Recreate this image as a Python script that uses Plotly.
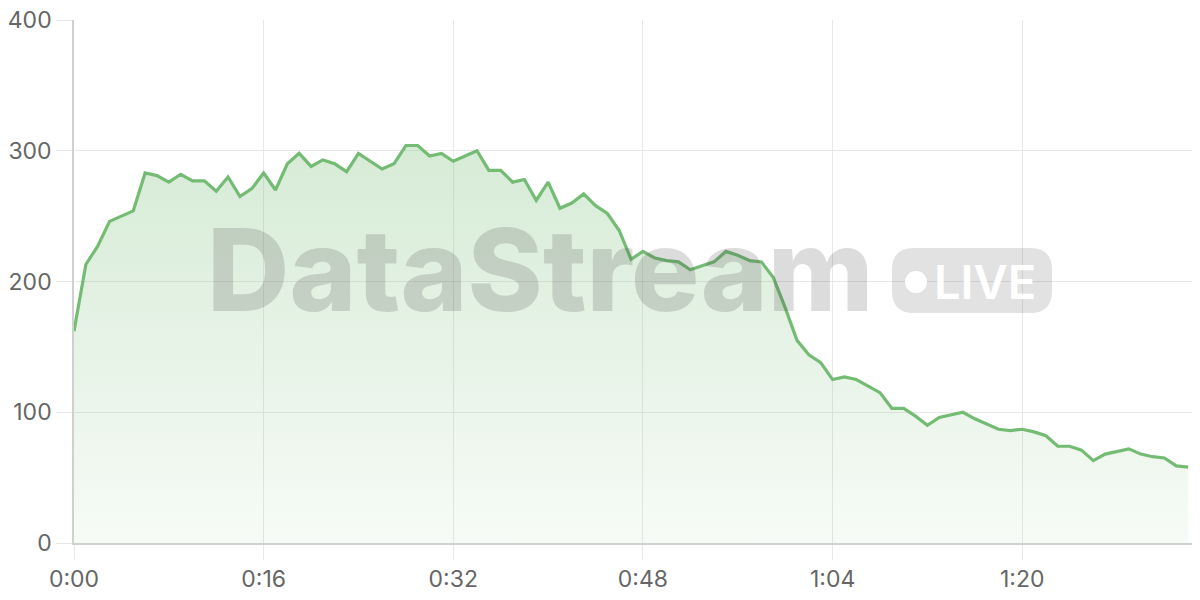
import plotly.graph_objects as go

# seconds since start, one sample per second
seconds = list(range(0, 95))
viewers = [162, 213, 227, 246, 250, 254, 283, 281, 276, 282,
           277, 277, 269, 280, 265, 271, 283, 270, 290, 298,
           288, 293, 290, 284, 298, 292, 286, 290, 304, 304,
           296, 298, 292, 296, 300, 285, 285, 276, 278, 262,
           276, 256, 260, 267, 258, 252, 239, 217, 223, 218,
           216, 215, 209, 212, 215, 223, 220, 216, 215, 203,
           180, 155, 144, 138, 125, 127, 125, 120, 115, 103,
           103, 97, 90, 96, 98, 100, 95, 91, 87, 86,
           87, 85, 82, 74, 74, 71, 63, 68, 70, 72,
           68, 66, 65, 59, 58]

x_ticks = [0, 16, 32, 48, 64, 80]
x_tick_labels = ["0:00", "0:16", "0:32", "0:48", "1:04", "1:20"]
y_ticks = [0, 100, 200, 300, 400]

# page body has an 8px margin, so the figure is shrunk to fit the window
OFF = 8
W, H = 1200 - OFF, 600 - 2 * OFF
L, R, T = 74 - OFF, 0, 20 - OFF
B = H - (543 - OFF)
pw, ph = W - L - R, H - T - B

def px(x):
    return (x - OFF - L) / pw

def py(y):
    return (H - B - (y - OFF)) / ph

fig = go.Figure()
fig.add_trace(go.Scatter(
    x=seconds, y=viewers, mode="lines",
    line=dict(color="#74bb74", width=3.2),
    fill="tozeroy",
    fillgradient=dict(type="vertical", start=0, stop=310,
                      colorscale=[[0, "rgba(116,187,116,0.06)"],
                                  [1, "rgba(116,187,116,0.30)"]]),
    hoverinfo="skip", showlegend=False,
))

# watermark
fig.add_annotation(text="DataStream", x=px(540), y=py(269),
                   xref="paper", yref="paper", showarrow=False,
                   xanchor="center", yanchor="middle",
                   font=dict(family="Inter", size=114, weight=800,
                             color="rgba(60,60,60,0.18)"))

# LIVE badge (rounded rect)
x0, x1, y0, y1, r = px(892), px(1052), py(313), py(248), 22
rx, ry = r / pw, r / ph
path = (f"M {x0+rx},{y0} L {x1-rx},{y0} Q {x1},{y0} {x1},{y0+ry} "
        f"L {x1},{y1-ry} Q {x1},{y1} {x1-rx},{y1} L {x0+rx},{y1} "
        f"Q {x0},{y1} {x0},{y1-ry} L {x0},{y0+ry} Q {x0},{y0} {x0+rx},{y0} Z")
fig.add_shape(type="path", path=path, xref="paper", yref="paper",
              fillcolor="rgba(60,60,60,0.15)", line=dict(width=0), layer="above")
cr = 11
fig.add_shape(type="circle", xref="paper", yref="paper",
              x0=px(916 - cr), x1=px(916 + cr), y0=py(282 + cr), y1=py(282 - cr),
              fillcolor="white", line=dict(width=0), layer="above")
fig.add_annotation(text="LIVE", x=px(932), y=py(281),
                   xref="paper", yref="paper", showarrow=False,
                   xanchor="left", yanchor="middle",
                   font=dict(family="Inter", size=47, weight=600, color="white"))

fig.update_layout(
    width=W, height=H,
    margin=dict(l=L, r=R, t=T, b=B),
    plot_bgcolor="white", paper_bgcolor="white",
    font=dict(family="Inter", size=23, color="#666666"),
)
fig.update_xaxes(range=[0, 95], tickvals=x_ticks, ticktext=x_tick_labels,
                 automargin=False, ticklabeloverflow="allow",
                 showgrid=True, gridcolor="#e8e8e8", gridwidth=1,
                 showline=True, linecolor="#d0d0d0", linewidth=1.5,
                 ticks="outside", ticklen=15, tickcolor="#e8e8e8", zeroline=False)
fig.update_yaxes(range=[0, 400], tickvals=y_ticks, automargin=False,
                 ticklabeloverflow="allow",
                 showgrid=True, gridcolor="#e8e8e8", gridwidth=1,
                 showline=True, linecolor="#d0d0d0", linewidth=1.5,
                 ticks="outside", ticklen=16, tickcolor="#e8e8e8", zeroline=False)

fig.write_html("out.html")
